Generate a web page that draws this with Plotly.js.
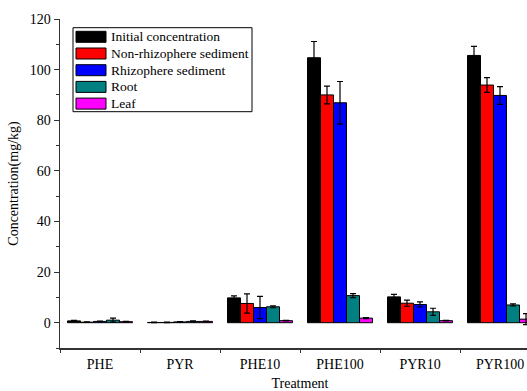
<!DOCTYPE html>
<html>
<head>
<meta charset="utf-8">
<script src="https://cdn.plot.ly/plotly-3.0.1.min.js"></script>
<style>html,body{margin:0;padding:0;overflow:hidden;background:#fff;width:527px;height:391px}</style>
</head>
<body>
<div id="chart" style="width:540px;height:391px"></div>
<script>
const categories = ["PHE", "PYR", "PHE10", "PHE100", "PYR10", "PYR100"];
const seriesNames = ["Initial concentration", "Non-rhizophere sediment", "Rhizophere sediment", "Root", "Leaf"];
const initialVals = [0.7, 0.1, 9.8, 104.7, 10.2, 105.6];
const initialErr  = [0.2, 0.1, 0.8, 6.4, 1.0, 3.6];
const nonRhizoVals = [0.2, 0.1, 7.6, 90.0, 7.7, 93.9];
const nonRhizoErr  = [0.1, 0.1, 3.8, 3.5, 1.2, 2.9];
const rhizoVals = [0.5, 0.3, 6.0, 86.9, 7.2, 89.8];
const rhizoErr  = [0.1, 0.1, 4.4, 8.4, 1.0, 3.5];
const rootVals = [1.0, 0.5, 6.3, 10.7, 4.3, 7.0];
const rootErr  = [0.8, 0.2, 0.4, 0.8, 1.4, 0.4];
const leafVals = [0.4, 0.5, 0.8, 1.8, 0.8, 1.4];
const leafErr  = [0.1, 0.1, 0.1, 0.2, 0.1, 2.2];
const colors = ["#000000", "#ff0000", "#0000ff", "#008080", "#ff00ff"];

const vals = [initialVals, nonRhizoVals, rhizoVals, rootVals, leafVals];
const errs = [initialErr, nonRhizoErr, rhizoErr, rootErr, leafErr];

const FAM = "Liberation Serif";
function f(size) { return {family: FAM, size: size, color: "#000"}; }

const traces = seriesNames.map((n, i) => ({
  type: "bar",
  name: n,
  x: categories,
  y: vals[i],
  marker: {color: colors[i], line: {color: "#000", width: 1}},
  error_y: {type: "data", array: errs[i], visible: true, color: "#000", thickness: 1.2, width: 3}
}));

// plot-area geometry (pixels) used to place the hand-drawn legend
const W = 540, H = 391, ML = 60, MR = 0, MT = 19, MB = 43;
const PW = W - ML - MR, PH = H - MT - MB;
const px = x => (x - ML) / PW;
const py = y => (H - MB - y) / PH;

const shapes = [{
  type: "rect", xref: "paper", yref: "paper",
  x0: px(73), x1: px(252), y0: py(111.7), y1: py(27.7),
  line: {color: "#000", width: 1}, fillcolor: "#fff", layer: "above"
}];
const annotations = [];
seriesNames.forEach((n, i) => {
  const cy = 36.8 + i * 16.7;
  shapes.push({
    type: "rect", xref: "paper", yref: "paper",
    x0: px(76), x1: px(106), y0: py(cy + 5.5), y1: py(cy - 5.5),
    line: {color: "#000", width: 1}, fillcolor: colors[i], layer: "above"
  });
  annotations.push({
    xref: "paper", yref: "paper", x: px(109), y: py(cy),
    xanchor: "left", yanchor: "middle", showarrow: false,
    text: n, font: f(13.5)
  });
});

const layout = {
  width: W, height: H,
  margin: {l: ML, r: MR, t: MT, b: MB},
  paper_bgcolor: "#fff", plot_bgcolor: "#fff",
  barmode: "group", bargap: 0.1875, bargroupgap: 0,
  font: f(14),
  showlegend: false,
  shapes: shapes,
  annotations: annotations,
  xaxis: {
    type: "category",
    range: [-0.5, 5.5],
    showline: true, linecolor: "#333", linewidth: 1.5,
    ticks: "outside", tickson: "boundaries", ticklen: 3, tickcolor: "#333",
    ticklabelstandoff: 3,
    showgrid: false, zeroline: false,
    tickfont: f(14),
    title: {text: "Treatment", font: f(14), standoff: 12}
  },
  yaxis: {
    range: [-10, 120],
    tickvals: [0, 20, 40, 60, 80, 100, 120],
    showline: true, linecolor: "#333", linewidth: 1.5,
    ticks: "outside", ticklen: 5, tickcolor: "#333",
    minor: {tickvals: [-10, 10, 30, 50, 70, 90, 110], ticks: "outside", ticklen: 3, tickcolor: "#333"},
    showgrid: false, zeroline: false,
    tickfont: f(14),
    title: {text: "Concentration(mg/kg)", font: f(14), standoff: 8}
  }
};

Plotly.newPlot("chart", traces, layout, {displayModeBar: false, staticPlot: true});
</script>
</body>
</html>
